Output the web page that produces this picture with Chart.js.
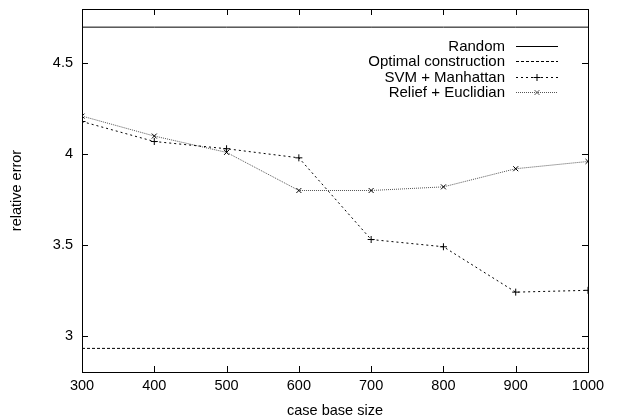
<!DOCTYPE html>
<html>
<head>
<meta charset="utf-8">
<script src="https://cdn.jsdelivr.net/npm/chart.js@4"></script>
<style>
html, body { margin: 0; padding: 0; background: #fff; }
</style>
</head>
<body>
<canvas id="chart" width="618" height="420"></canvas>
<script>
// case base sizes and errors
const caseSizes = [300, 400, 500, 600, 700, 800, 900, 1000];
const svmManhattan = [4.18, 4.07, 4.03, 3.98, 3.53, 3.49, 3.24, 3.25];
const reliefEuclidian = [4.21, 4.10, 4.01, 3.80, 3.80, 3.82, 3.92, 3.96];
const randomError = [4.70, 4.70, 4.70, 4.70, 4.70, 4.70, 4.70, 4.70];
const optimalError = [2.93, 2.93, 2.93, 2.93, 2.93, 2.93, 2.93, 2.93];
const xTicks = [300, 400, 500, 600, 700, 800, 900, 1000];
const yTicks = [3, 3.5, 4, 4.5];

const FONT = 'Liberation Sans, Arial, Helvetica, sans-serif';

function points(ys) {
    return caseSizes.map((x, i) => ({ x: x, y: ys[i] }));
}

// gnuplot style frame with inward ticks on all four sides
const framePlugin = {
    id: 'frame',
    afterDatasetsDraw(chart) {
        const ctx = chart.ctx;
        const a = chart.chartArea;
        const xs = chart.scales.x, ys = chart.scales.y;
        const len = 6;
        ctx.save();
        ctx.strokeStyle = '#000';
        ctx.lineWidth = 1;
        ctx.setLineDash([]);
        ctx.strokeRect(a.left + 0.5, a.top + 0.5, a.right - a.left, a.bottom - a.top);
        ctx.beginPath();
        xTicks.forEach(v => {
            const px = Math.round(xs.getPixelForValue(v)) + 0.5;
            ctx.moveTo(px, a.bottom); ctx.lineTo(px, a.bottom - len);
            ctx.moveTo(px, a.top); ctx.lineTo(px, a.top + len);
        });
        yTicks.forEach(v => {
            const py = Math.round(ys.getPixelForValue(v)) + 0.5;
            ctx.moveTo(a.left, py); ctx.lineTo(a.left + len, py);
            ctx.moveTo(a.right, py); ctx.lineTo(a.right - len, py);
        });
        ctx.stroke();
        ctx.restore();
    }
};

// legend: right aligned text with the sample to its right
const keyPlugin = {
    id: 'key',
    afterDatasetsDraw(chart) {
        const ctx = chart.ctx;
        const textRight = 505, x0 = 516, x1 = 558, top = 46, step = 15.3;
        ctx.save();
        ctx.font = '15px ' + FONT;
        ctx.textAlign = 'right';
        ctx.textBaseline = 'middle';
        chart.data.datasets.forEach((ds, i) => {
            const y = Math.round(top + i * step) + 0.5;
            ctx.fillStyle = '#000';
            ctx.fillText(ds.label, textRight, y);
            ctx.strokeStyle = ds.borderColor;
            ctx.lineWidth = 1;
            ctx.setLineDash(ds.borderDash || []);
            ctx.beginPath();
            ctx.moveTo(x0, y); ctx.lineTo(x1, y);
            ctx.stroke();
            ctx.setLineDash([]);
            if (ds.pointRadius > 0) {
                Chart.helpers.drawPoint(ctx, {
                    pointStyle: ds.pointStyle,
                    radius: ds.pointRadius,
                    borderWidth: 1,
                    rotation: 0
                }, (x0 + x1) / 2, y);
            }
        });
        ctx.restore();
    }
};

new Chart(document.getElementById('chart'), {
    type: 'line',
    data: {
        datasets: [{
            label: 'Random',
            data: points(randomError),
            borderColor: '#000',
            borderWidth: 1,
            pointRadius: 0
        }, {
            label: 'Optimal construction',
            data: points(optimalError),
            borderColor: '#000',
            borderWidth: 1,
            borderDash: [3, 2],
            pointRadius: 0
        }, {
            label: 'SVM + Manhattan',
            data: points(svmManhattan),
            borderColor: '#000',
            borderWidth: 1,
            borderDash: [2, 3],
            pointStyle: 'cross',
            pointRadius: 3.5,
            pointBorderColor: '#000',
            pointBorderWidth: 1
        }, {
            label: 'Relief + Euclidian',
            data: points(reliefEuclidian),
            borderColor: '#555',
            borderWidth: 1,
            borderDash: [1, 1],
            pointStyle: 'crossRot',
            pointRadius: 3.5,
            pointBorderColor: '#000',
            pointBorderWidth: 1
        }]
    },
    options: {
        responsive: false,
        animation: false,
        layout: { padding: { top: 9, right: 30, left: 0, bottom: 0 } },
        plugins: {
            legend: { display: false },
            tooltip: { enabled: false }
        },
        elements: { line: { tension: 0 } },
        scales: {
            x: {
                type: 'linear',
                min: 300,
                max: 1000,
                afterBuildTicks: s => { s.ticks = xTicks.map(v => ({ value: v })); },
                afterFit: s => { s.height = 48; s.paddingLeft = 0; s.paddingRight = 0; },
                grid: { display: false, drawTicks: false },
                border: { display: false },
                ticks: {
                    color: '#000',
                    padding: 5,
                    maxRotation: 0,
                    font: { family: FONT, size: 14.5 },
                    callback: v => String(v)
                },
                title: {
                    display: true,
                    text: 'case base size',
                    color: '#000',
                    padding: { top: 3, bottom: 0 },
                    font: { family: FONT, size: 14.5 }
                }
            },
            y: {
                min: 2.8,
                max: 4.8,
                afterBuildTicks: s => { s.ticks = yTicks.map(v => ({ value: v })); },
                afterFit: s => { s.width = 82; s.paddingTop = 0; s.paddingBottom = 0; },
                grid: { display: false, drawTicks: false },
                border: { display: false },
                ticks: {
                    color: '#000',
                    padding: 9,
                    font: { family: FONT, size: 14.5 },
                    callback: v => String(v)
                },
                title: {
                    display: true,
                    text: 'relative error',
                    color: '#000',
                    padding: { top: 8, bottom: 0 },
                    font: { family: FONT, size: 14.5 }
                }
            }
        }
    },
    plugins: [framePlugin, keyPlugin]
});
</script>
</body>
</html>
